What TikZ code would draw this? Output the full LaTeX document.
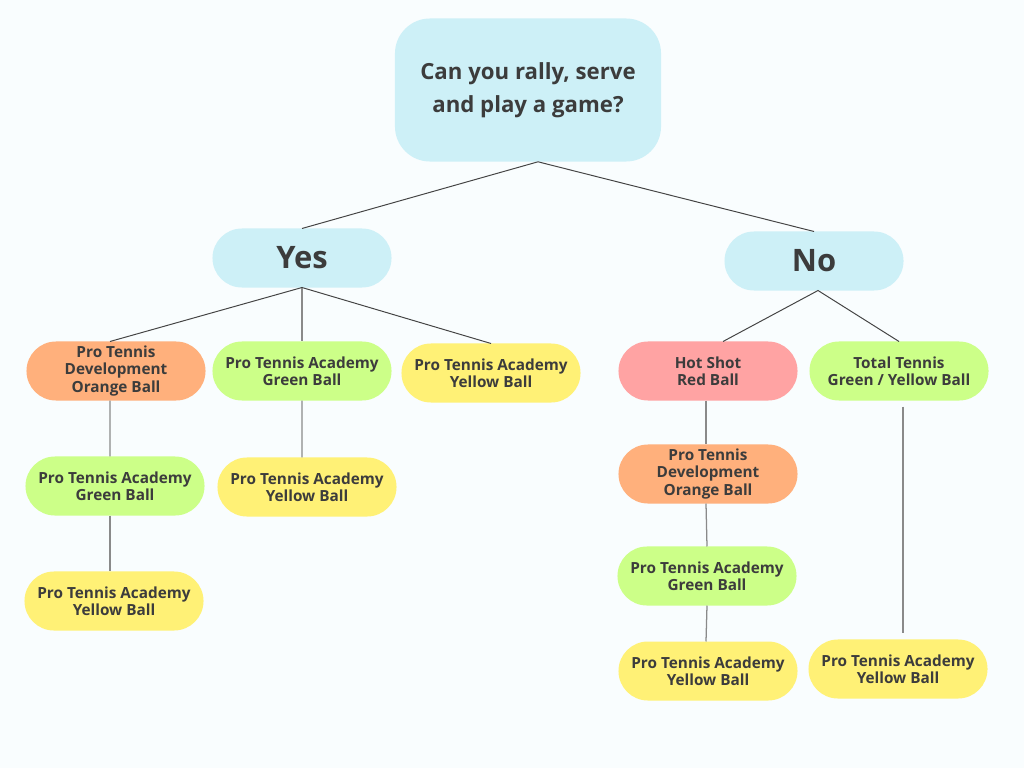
\documentclass[tikz,border=0pt]{standalone}
\usepackage{fontspec}
\setmainfont{Open Sans}
\usetikzlibrary{shapes.misc}

\definecolor{Backdrop}{HTML}{F9FDFE}
\definecolor{SkyBlue}{HTML}{CDF0F7}
\definecolor{OrangeBall}{HTML}{FFB07C}
\definecolor{GreenBall}{HTML}{CCFF88}
\definecolor{YellowBall}{HTML}{FFF176}
\definecolor{RedBall}{HTML}{FFA3A3}
\definecolor{TextGrey}{HTML}{3C3C3C}
\definecolor{LineDark}{HTML}{444444}
\definecolor{LineGrey}{HTML}{8A8A8A}

\begin{document}
\begin{tikzpicture}
      [
        x = 0.025cm, y = -0.025cm,
        BallBlock/.style={rounded rectangle, minimum width=4.475cm, minimum height=1.475cm, inner sep=0pt, outer sep=0pt, align=center, text=TextGrey, font=\bfseries\fontsize{10.9}{12.1}\selectfont},
        AnswerBlock/.style={BallBlock, fill=SkyBlue, font=\bfseries\fontsize{22}{24}\selectfont},
        Branch/.style={draw=LineDark, line width=0.7pt},
        Stem/.style={draw=LineGrey, line width=0.9pt},
      ]

      \fill [Backdrop] (0,0) rectangle (1024,768);
      \useasboundingbox (0,0) rectangle (1024,768);

      \node [rectangle, rounded corners=0.875cm, fill=SkyBlue, minimum width=6.65cm, minimum height=3.575cm, align=center, text=TextGrey, font=\bfseries\fontsize{15.8}{23.5}\selectfont] (ask) at (528,90) {Can you rally, serve\\and play a game?};

      \node [AnswerBlock] (yes) at (302,258) {Yes};
      \node [AnswerBlock] (no)  at (814,261) {No};

      % yes side
      \node [BallBlock, fill=OrangeBall] (yOrange) at (116,371) {Pro Tennis\\Development\\Orange Ball};
      \node [BallBlock, fill=GreenBall]  (yGreen)  at (302,371) {Pro Tennis Academy\\Green Ball};
      \node [BallBlock, fill=YellowBall] (yYellow) at (491,373) {Pro Tennis Academy\\Yellow Ball};
      \node [BallBlock, fill=GreenBall]  (yOrangeGreen)  at (115,486) {Pro Tennis Academy\\Green Ball};
      \node [BallBlock, fill=YellowBall] (yOrangeYellow) at (114,601) {Pro Tennis Academy\\Yellow Ball};
      \node [BallBlock, fill=YellowBall] (yGreenYellow)  at (307,487) {Pro Tennis Academy\\Yellow Ball};

      % no side
      \node [BallBlock, fill=RedBall]    (nRed)    at (708,371) {Hot Shot\\Red Ball};
      \node [BallBlock, fill=GreenBall]  (nTotal)  at (899,371) {Total Tennis\\Green / Yellow Ball};
      \node [BallBlock, fill=OrangeBall] (nOrange) at (708,474) {Pro Tennis\\Development\\Orange Ball};
      \node [BallBlock, fill=GreenBall]  (nGreen)  at (707,576) {Pro Tennis Academy\\Green Ball};
      \node [BallBlock, fill=YellowBall] (nYellow) at (708,671) {Pro Tennis Academy\\Yellow Ball};
      \node [BallBlock, fill=YellowBall] (nTotalYellow) at (898,669) {Pro Tennis Academy\\Yellow Ball};

      \draw [Branch] (yes.north) -- ([xshift=0.25cm]ask.south) -- (no.north);
      \draw [Branch] ([xshift=-0.15cm]yOrange.north) -- (yes.south) -- (yYellow.north);
      \draw [Stem] (yes.south) -- (yGreen.north);
      \draw [Branch] ([xshift=0.375cm]nRed.north) -- ([xshift=0.1cm]no.south) -- (nTotal.north);

      \draw [Stem] ([xshift=-0.15cm]yOrange.south) -- ([xshift=-0.125cm]yOrangeGreen.north);
      \draw [Stem] ([xshift=-0.125cm]yOrangeGreen.south) -- ([xshift=-0.1cm]yOrangeYellow.north);
      \draw [Stem] (yGreen.south) -- ([xshift=-0.125cm]yGreenYellow.north);
      \draw [Stem] ([xshift=-0.05cm]nRed.south) -- ([xshift=-0.05cm]nOrange.north);
      \draw [Stem] ([xshift=-0.05cm]nOrange.south) -- (nGreen.north);
      \draw [Stem] (nGreen.south) -- ([xshift=-0.05cm]nYellow.north);
      \draw [Stem, shorten <=0.15cm, shorten >=0.15cm] ([xshift=0.1cm]nTotal.south) -- ([xshift=0.125cm]nTotalYellow.north);
    \end{tikzpicture}
\end{document}
